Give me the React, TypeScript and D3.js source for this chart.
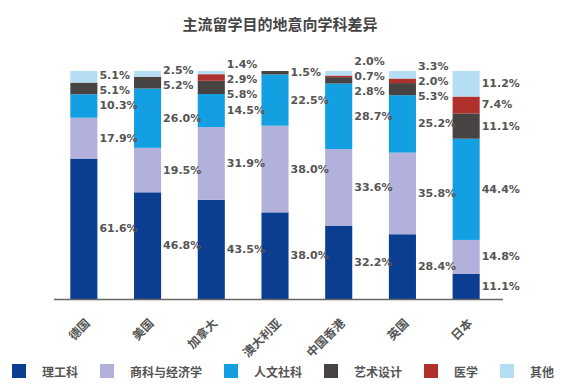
import React from 'react';
import * as d3 from 'd3';

// chart data
const categories = ['德国', '美国', '加拿大', '澳大利亚', '中国香港', '英国', '日本'];
const subjects = ['理工科', '商科与经济学', '人文社科', '艺术设计', '医学', '其他'];
const stem = [61.6, 46.8, 43.5, 38.0, 32.2, 28.4, 11.1];
const business = [17.9, 19.5, 31.9, 38.0, 33.6, 35.8, 14.8];
const humanities = [10.3, 26.0, 14.5, 22.5, 28.7, 25.2, 44.4];
const arts = [5.1, 5.2, 5.8, 1.5, 2.8, 5.3, 11.1];
const medicine = [0, 0, 2.9, 0, 0.7, 2.0, 7.4];
const others = [5.1, 2.5, 1.4, 0, 2.0, 3.3, 11.2];

const colors = ['#0b3d91', '#b1b1dc', '#12a0e2', '#474343', '#b0312b', '#b5ddf3'];

const W = 561;
const H = 388;
const TEXT = '#555';
const CJK = '"Noto Sans CJK SC", "Noto Sans", sans-serif';
const NUM = '"DejaVu Sans", sans-serif';

type Row = { name: string; [k: string]: number | string };

const rows: Row[] = categories.map((c, i) => ({
  name: c,
  [subjects[0]]: stem[i],
  [subjects[1]]: business[i],
  [subjects[2]]: humanities[i],
  [subjects[3]]: arts[i],
  [subjects[4]]: medicine[i],
  [subjects[5]]: others[i],
}));

// spread overlapping labels apart
const spread = (items: { y: number }[], gap: number) => {
  items.sort((a, b) => a.y - b.y);
  for (let it = 0; it < 60; it++) {
    let moved = false;
    for (let i = 1; i < items.length; i++) {
      const d = items[i].y - items[i - 1].y;
      if (d < gap) {
        const shift = (gap - d) / 2;
        items[i - 1].y -= shift;
        items[i].y += shift;
        moved = true;
      }
    }
    if (!moved) break;
  }
  return items;
};

export default function App() {
  const x = d3.scaleBand<string>()
    .domain(categories)
    .range([52, 498])
    .paddingInner(0.575)
    .paddingOuter(0.2875);

  const y = d3.scaleLinear().domain([0, 100]).range([299, 71]);

  const stack = d3.stack<Row>().keys(subjects).value((d, k) => d[k] as number);
  const series = stack(rows);

  // labels per category
  const labels = categories.map((c, ci) => {
    const items = series
      .map((s, si) => ({ s, si, d: s[ci] }))
      .filter(o => o.d[1] - o.d[0] > 0)
      .map(o => ({
        value: o.d[1] - o.d[0],
        y: (y(o.d[0]) + y(o.d[1])) / 2,
        key: o.si,
      }));
    return { c, items: spread(items, 15) };
  });

  // legend layout
  const charW = 12;
  let lx = 12;
  const legend = subjects.map((s, i) => {
    const item = { s, i, x: lx };
    lx += 30 + s.length * charW + 22;
    return item;
  });

  return (
    <svg
      width={W}
      height={H}
      style={{ position: 'absolute', left: 0, top: 0, background: '#fff' }}
    >
      <text
        x={280}
        y={30}
        textAnchor="middle"
        fontFamily={CJK}
        fontWeight="bold"
        fontSize={15}
        fill="#444"
      >
        主流留学目的地意向学科差异
      </text>

      {series.map((s, si) => (
        <g key={s.key} fill={colors[si]}>
          {s.map((d, ci) => (
            d[1] - d[0] > 0 ? (
              <rect
                key={ci}
                x={x(categories[ci])}
                y={y(d[1])}
                width={x.bandwidth()}
                height={y(d[0]) - y(d[1])}
              />
            ) : null
          ))}
        </g>
      ))}

      {labels.map(l => (
        <g key={l.c}>
          {l.items.map(it => (
            <text
              key={it.key}
              x={(x(l.c) as number) + x.bandwidth() + 2}
              y={it.y}
              dominantBaseline="central"
              fontFamily={NUM}
              fontWeight="bold"
              fontSize={11}
              fill={TEXT}
            >
              {it.value.toFixed(1)}%
            </text>
          ))}
        </g>
      ))}

      <line x1={54} x2={503} y1={299.5} y2={299.5} stroke="#666" strokeWidth={1.5} />

      {categories.map(c => {
        const cx = (x(c) as number) + x.bandwidth() / 2 + 7;
        return (
          <text
            key={c}
            transform={`translate(${cx},324) rotate(-45)`}
            textAnchor="end"
            fontFamily={CJK}
            fontWeight="bold"
            fontSize={12}
            fill={TEXT}
          >
            {c}
          </text>
        );
      })}

      {legend.map(g => (
        <g key={g.s} transform={`translate(${g.x},364)`}>
          <rect width={14} height={14} fill={colors[g.i]} />
          <text
            x={30}
            y={7}
            dominantBaseline="central"
            fontFamily={CJK}
            fontWeight="bold"
            fontSize={12}
            fill={TEXT}
          >
            {g.s}
          </text>
        </g>
      ))}
    </svg>
  );
}
